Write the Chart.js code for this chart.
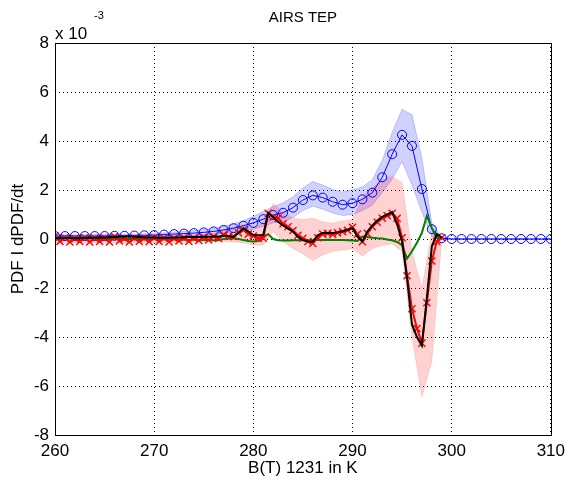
<!DOCTYPE html>
<html>
<head>
<meta charset="utf-8">
<script src="https://cdn.jsdelivr.net/npm/chart.js@4/dist/chart.umd.min.js"></script>
<style>
  html, body { margin: 0; padding: 0; background: #fff; }
  #wrap { width: 571px; height: 486px; }
</style>
</head>
<body>
<div id="wrap"><canvas id="chart" width="571" height="486"></canvas></div>
<script>
// values in units of 1e-3
const titleText = 'AIRS TEP';
const xLabel = 'B(T) 1231 in K';
const yLabel = 'PDF I dPDF/dt';

const xTicks = [260, 270, 280, 290, 300, 310];
const yTicks = [-8, -6, -4, -2, 0, 2, 4, 6, 8];

// 1 K grid (blue circles + bands)
const binK = [260,261,262,263,264,265,266,267,268,269,
  270,271,272,273,274,275,276,277,278,279,
  280,281,282,283,284,285,286,287,288,289,
  290,291,292,293,294,295,296,297,298,299,
  300,301,302,303,304,305,306,307,308,309,310];

const blue = [0.12,0.12,0.12,0.12,0.12,0.12,0.13,0.13,0.14,0.15,
  0.16,0.18,0.20,0.22,0.24,0.27,0.31,0.37,0.44,0.54,
  0.66,0.81,0.98,1.07,1.28,1.59,1.78,1.69,1.52,1.40,
  1.46,1.62,1.89,2.52,3.46,4.25,3.80,2.04,0.40,0.03,
  0,0,0,0,0,0,0,0,0,0,0];
const blueHi = [0.17,0.17,0.17,0.17,0.18,0.18,0.19,0.19,0.20,0.21,
  0.22,0.25,0.28,0.31,0.34,0.38,0.43,0.52,0.62,0.75,
  0.92,1.12,1.32,1.48,1.72,2.08,2.35,2.20,2.02,1.92,
  2.00,2.12,2.42,3.20,4.35,5.30,5.07,3.30,0.65,0.08,
  0.02,0.02,0.02,0.02,0.02,0.02,0.02,0.02,0.02,0.02,0.02];
const blueLo = [0.07,0.07,0.07,0.07,0.07,0.07,0.08,0.08,0.08,0.09,
  0.10,0.11,0.12,0.13,0.14,0.16,0.19,0.24,0.28,0.33,
  0.40,0.52,0.66,0.70,0.88,1.16,1.34,1.22,1.06,0.96,
  1.00,1.16,1.38,1.90,2.45,3.16,2.20,1.10,0.10,-0.02,
  -0.02,-0.02,-0.02,-0.02,-0.02,-0.02,-0.02,-0.02,-0.02,-0.02,-0.02];

// pink band, 1 K grid 260..299
const pinkK = [260,261,262,263,264,265,266,267,268,269,
  270,271,272,273,274,275,276,277,278,279,
  280,281,282,283,284,285,286,287,288,289,
  290,291,292,293,294,295,296,297,298,299];
const pinkHi = [0.15,0.14,0.14,0.15,0.14,0.14,0.15,0.15,0.14,0.14,
  0.14,0.14,0.15,0.15,0.16,0.18,0.22,0.35,0.50,0.60,
  0.40,0.70,1.45,1.10,0.85,0.80,0.85,0.70,0.64,0.75,
  0.80,1.70,2.10,2.41,2.55,2.30,-0.50,-2.00,0.30,0.05];
const pinkLo = [-0.16,-0.16,-0.15,-0.16,-0.15,-0.15,-0.16,-0.16,-0.15,-0.15,
  -0.15,-0.15,-0.15,-0.15,-0.14,-0.12,-0.12,-0.10,-0.12,-0.15,
  -0.25,-0.25,0.30,-0.10,-0.40,-0.60,-0.89,-0.65,-0.50,-0.45,
  -0.40,-0.70,-0.40,-0.25,-0.20,-0.50,-4.00,-6.45,-5.00,-0.05];

// 0.5 K grid 260..299 (red x, black, green)
const halfK = [260,260.5,261,261.5,262,262.5,263,263.5,264,264.5,
  265,265.5,266,266.5,267,267.5,268,268.5,269,269.5,
  270,270.5,271,271.5,272,272.5,273,273.5,274,274.5,
  275,275.5,276,276.5,277,277.5,
  278,278.5,279,279.5,280,280.5,281,281.5,282,282.5,
  283,283.5,284,284.5,285,285.5,286,286.5,287,287.5,
  288,288.5,289,289.5,290,290.5,291,291.5,292,292.5,
  293,293.5,294,294.5,295,295.5,296,296.5,297,297.5,
  298,298.5,299];
const red = [0.12,-0.10,0.05,-0.12,0.02,-0.10,0.05,-0.12,0.03,-0.10,
  0.04,-0.12,0.10,-0.08,0.02,-0.12,0.04,-0.10,0.03,-0.11,
  0.05,-0.10,0.04,-0.12,0.03,-0.08,0.05,-0.10,0.04,-0.06,
  0.08,-0.04,0.10,0.02,0.18,0.10,
  0.10,0.25,0.37,0.20,0.12,0.03,0.03,1.05,0.90,0.85,
  0.62,0.50,0.35,0.15,0.03,-0.10,-0.18,0.05,0.20,0.23,
  0.19,0.25,0.30,0.36,0.48,0.20,-0.11,0.23,0.50,0.68,
  0.85,0.95,1.05,0.85,0.05,-1.50,-2.85,-3.65,-4.25,-2.60,
  -0.90,-0.10,0.05];
const black = [0.03,0.03,0.04,0.04,0.03,0.03,0.04,0.05,0.05,0.06,
  0.06,0.07,0.08,0.09,0.10,0.10,0.09,0.08,0.07,0.06,
  0.06,0.05,0.05,0.05,0.06,0.06,0.07,0.08,0.08,0.08,
  0.09,0.09,0.10,0.10,0.12,0.12,
  0.08,0.25,0.44,0.30,0.16,0.15,0.16,1.07,0.90,0.70,
  0.55,0.42,0.30,0.08,-0.04,-0.10,-0.11,0.15,0.25,0.25,
  0.24,0.27,0.32,0.38,0.44,0.10,-0.10,0.30,0.55,0.75,
  0.90,1.00,1.10,0.60,-0.10,-1.60,-3.50,-4.00,-4.35,-2.40,
  -0.30,0.20,0.05];
const green = [0.03,0.02,0.02,0.03,0.02,0.02,0.02,0.02,0.01,0.01,
  0.00,0.00,0.01,0.01,0.00,0.00,0.00,0.00,-0.01,-0.01,
  -0.01,-0.01,-0.02,-0.02,-0.02,-0.03,-0.03,-0.03,-0.03,-0.04,
  -0.04,-0.04,-0.05,-0.04,0.00,0.02,
  0.03,0.00,-0.04,-0.08,-0.10,-0.08,0.10,0.20,0.00,-0.05,
  -0.06,-0.06,-0.05,-0.05,-0.05,-0.06,-0.05,-0.04,-0.04,-0.03,
  -0.04,-0.04,-0.04,-0.05,-0.06,-0.08,0.10,0.08,0.05,0.03,
  0.02,-0.02,-0.05,-0.12,-0.25,-0.80,-0.50,-0.15,0.25,0.95,
  0.45,0.05,0.00];

const FONT = "'Liberation Sans', Arial, Helvetica, sans-serif";

function pts(xs, ys) {
  return xs.map((x, i) => ({ x: x, y: ys[i] }));
}

const frame = {
  id: 'frame',
  afterDraw(chart) {
    const ctx = chart.ctx;
    const a = chart.chartArea;
    ctx.save();
    ctx.setLineDash([]);
    ctx.strokeStyle = '#000';
    ctx.lineWidth = 1;
    ctx.strokeRect(Math.round(a.left) + 0.5, Math.round(a.top) + 0.5,
      Math.round(a.width), Math.round(a.height));
    ctx.fillStyle = '#000';
    ctx.font = '15px ' + FONT;
    ctx.textAlign = 'center';
    ctx.textBaseline = 'middle';
    ctx.fillText(titleText, (a.left + a.right) / 2, 18);
    ctx.textAlign = 'left';
    ctx.textBaseline = 'alphabetic';
    ctx.font = '17px ' + FONT;
    ctx.fillText('x 10', 55, 39);
    ctx.font = '11px ' + FONT;
    ctx.fillText('-3', 94, 19);
    ctx.restore();
  }
};

const ctx = document.getElementById('chart');

const chart = new Chart(ctx, {
  type: 'line',
  data: {
    datasets: [
      { data: pts(halfK, black), borderColor: '#000', borderWidth: 2,
        pointRadius: 0, order: 1 },
      { data: pts(halfK, red), borderColor: '#ff0000', borderWidth: 2,
        pointStyle: 'crossRot', pointRadius: 5, pointBorderWidth: 1.4,
        pointBorderColor: '#ff0000', order: 2 },
      { data: pts(halfK, green), borderColor: '#008000', borderWidth: 2,
        pointRadius: 0, order: 3 },
      { data: pts(binK, blue), borderColor: '#0000ff', borderWidth: 1,
        pointStyle: 'circle', pointRadius: 4.5, pointBorderWidth: 1,
        pointBorderColor: '#0000ff', pointBackgroundColor: 'rgba(0,0,0,0)', order: 4 },
      { data: pts(pinkK, pinkLo), borderColor: 'rgba(255,0,0,0.12)', borderWidth: 1,
        pointRadius: 0, fill: false, order: 5 },
      { data: pts(pinkK, pinkHi), borderColor: 'rgba(255,0,0,0.12)', borderWidth: 1,
        pointRadius: 0, fill: '-1', backgroundColor: 'rgba(255,0,0,0.18)', order: 6 },
      { data: pts(binK, blueLo), borderColor: 'rgba(0,0,255,0.2)', borderWidth: 1,
        pointRadius: 0, fill: false, order: 7 },
      { data: pts(binK, blueHi), borderColor: 'rgba(0,0,255,0.2)', borderWidth: 1,
        pointRadius: 0, fill: '-1', backgroundColor: 'rgba(0,0,255,0.18)', order: 8 }
    ]
  },
  options: {
    responsive: false,
    animation: false,
    layout: { padding: { top: 43, right: 20, left: 0, bottom: 0 } },
    plugins: {
      legend: { display: false },
      tooltip: { enabled: false }
    },
    scales: {
      x: {
        type: 'linear',
        min: 260,
        max: 310,
        afterFit: (s) => { s.height = 51; },
        afterBuildTicks: (s) => { s.ticks = xTicks.map(v => ({ value: v })); },
        ticks: { color: '#000', font: { size: 17, family: FONT }, padding: 6, maxRotation: 0 },
        grid: { color: '#000', lineWidth: 1, drawTicks: false },
        border: { display: false, dash: [1, 3] },
        title: { display: true, text: xLabel, color: '#000',
          font: { size: 17, family: FONT }, padding: { bottom: 7 } }
      },
      y: {
        min: -8,
        max: 8,
        afterFit: (s) => { s.width = 55; },
        afterBuildTicks: (s) => { s.ticks = yTicks.map(v => ({ value: v })); },
        ticks: { color: '#000', font: { size: 17, family: FONT }, padding: 6 },
        grid: { color: '#000', lineWidth: 1, drawTicks: false },
        border: { display: false, dash: [1, 3] },
        title: { display: true, text: yLabel, color: '#000',
          font: { size: 17, family: FONT }, padding: { top: 8 } }
      }
    }
  },
  plugins: [frame]
});
</script>
</body>
</html>
